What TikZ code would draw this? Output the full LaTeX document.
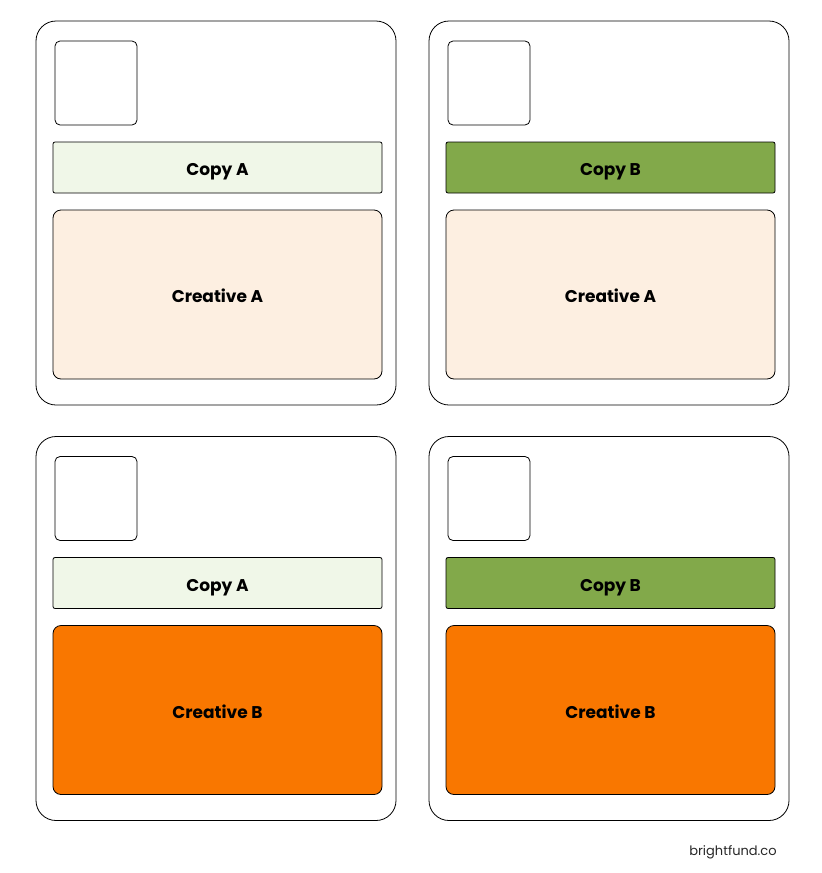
\documentclass[tikz,border=0pt]{standalone}
\usepackage{fontspec}
\setmainfont{Poppins}
\usetikzlibrary{positioning}
\definecolor{copyA}{HTML}{F0F7E8}
\definecolor{copyB}{HTML}{82A94A}
\definecolor{creaA}{HTML}{FDEFE1}
\definecolor{creaB}{HTML}{F97700}
\tikzset{
    card/.style={draw,rounded corners=20pt,minimum width=360pt,minimum height=384pt,line width=0.8pt},
    thumb/.style={draw,rounded corners=5pt,minimum width=82pt,minimum height=84pt,line width=0.8pt},
    label/.style={font=\bfseries\fontsize{17}{19}\selectfont,text height=16pt,text depth=0pt},
    copybar/.style={draw,label,rounded corners=2pt,minimum width=329pt,minimum height=51pt,line width=0.8pt},
    creative/.style={draw,label,rounded corners=8pt,minimum width=329pt,minimum height=169pt,line width=0.8pt}
}

\begin{document}
\begin{tikzpicture}[x=1pt,y=-1pt]
        \useasboundingbox (0,0) rectangle (822,873);
        \foreach \n/\x/\y/\cp/\cpcol/\cr/\crcol in {1/216/213/A/copyA/A/creaA,
                                                   2/609/213/B/copyB/A/creaA,
                                                   3/216/628.5/A/copyA/B/creaB,
                                                   4/609/628.5/B/copyB/B/creaB}{
        		\node[card] (card\n) at (\x,\y) {};
        		\node[thumb] (thumb\n) at (\x-120,\y-130) {};
        		\node[copybar,fill=\cpcol] (copy\n) at (\x+1.5,\y-45.5) {Copy \cp};
        		\node[creative,fill=\crcol] (crea\n) at (\x+1.5,\y+81.5) {Creative \cr};
        }
        \node[font=\fontsize{13}{15}\selectfont,text=black!85] (brand) at (733,852) {brightfund.co};
\end{tikzpicture}
\end{document}
